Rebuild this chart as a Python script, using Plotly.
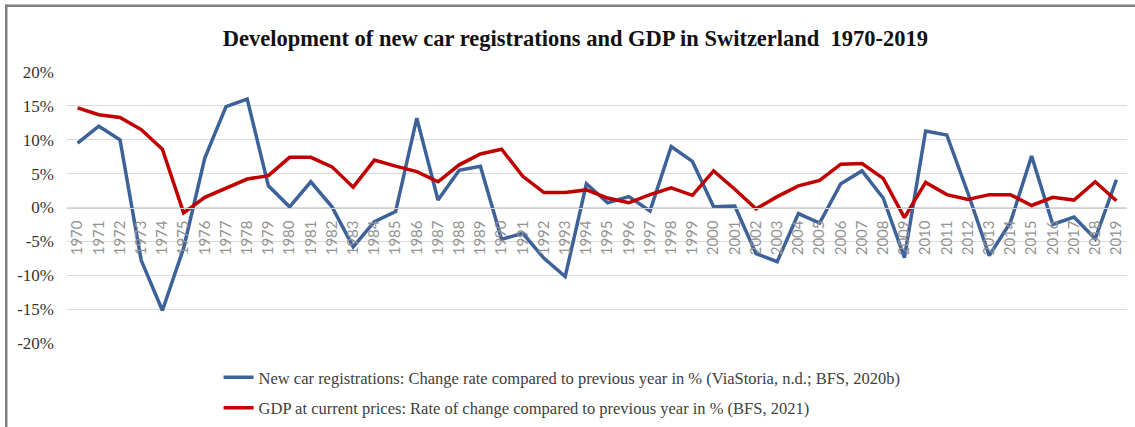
import plotly.graph_objects as go

# Years shown on the category axis
years = [str(y) for y in range(1970, 2020)]

# New car registrations: change rate vs previous year (%)
car_registrations = [
    9.5, 12.0, 10.0, -7.8, -15.2, -6.0, 7.3, 14.9, 16.0, 3.2,
    0.1, 3.8, 0.1, -5.8, -2.1, -0.6, 13.2, 1.1, 5.5, 6.1,
    -4.7, -3.8, -7.5, -10.2, 3.5, 0.7, 1.6, -0.5, 9.0, 6.8,
    0.1, 0.2, -6.8, -8.0, -0.9, -2.3, 3.5, 5.4, 1.4, -7.4,
    11.3, 10.7, 2.1, -7.1, -2.2, 7.6, -2.5, -1.4, -4.6, 4.1,
]

# GDP at current prices: rate of change vs previous year (%)
gdp_change = [
    14.7, 13.7, 13.3, 11.5, 8.6, -0.8, 1.5, 2.8, 4.2, 4.7,
    7.4, 7.4, 6.0, 3.0, 7.0, 6.1, 5.3, 3.8, 6.3, 7.9,
    8.6, 4.6, 2.2, 2.2, 2.6, 1.4, 0.7, 1.9, 2.9, 1.8,
    5.4, 2.7, -0.2, 1.6, 3.2, 4.0, 6.4, 6.5, 4.3, -1.5,
    3.7, 1.9, 1.2, 1.9, 1.9, 0.3, 1.5, 1.1, 3.8, 1.0,
]

y_ticks = [-20, -15, -10, -5, 0, 5, 10, 15, 20]
y_tick_labels = [f"{v}%" for v in y_ticks]

SERIF = "Liberation Serif, Times New Roman, serif"
W, H = 1135, 427
ML, MR, MT, MB = 67, 8, 72, 84
PW, PH = W - ML - MR, H - MT - MB

fig = go.Figure()
fig.add_trace(go.Scatter(
    x=years, y=car_registrations, mode="lines",
    name="New car registrations: Change rate compared to previous year in % (ViaStoria, n.d.; BFS, 2020b)",
    line=dict(color="#3d6199", width=3.5),
    legendgroup="a",
))
fig.add_trace(go.Scatter(
    x=years, y=gdp_change, mode="lines",
    name="GDP at current prices: Rate of change compared to previous year in % (BFS, 2021)",
    line=dict(color="#c00000", width=3.5),
    legendgroup="b",
))

fig.update_layout(
    width=W, height=H,
    margin=dict(l=ML, r=MR, t=MT, b=MB, autoexpand=False),
    paper_bgcolor="white", plot_bgcolor="white",
    title=dict(
        text="<b>Development of new car registrations and GDP in Switzerland  1970-2019</b>",
        x=0.507, xanchor="center", y=0.91, yanchor="middle",
        font=dict(family=SERIF, size=22.5, color="#111111"),
    ),
    showlegend=True,
    legend=dict(
        orientation="v", x=0.143, xanchor="left", y=-0.063, yanchor="top",
        font=dict(family=SERIF, size=16.5, color="#404040"),
        tracegroupgap=6, itemwidth=30, bgcolor="rgba(0,0,0,0)",
    ),
    xaxis=dict(
        type="category", range=[-0.5, len(years) - 0.5],
        anchor="free", position=0.5,
        showgrid=False, showline=True, linecolor="#d0d0d0", linewidth=1,
        ticks="", tickangle=-90, ticklabelstandoff=6,
        tickfont=dict(family="Lato, Liberation Sans, sans-serif", size=15, color="#939393"),
    ),
    yaxis=dict(
        range=[-20, 20], tickvals=y_ticks, ticktext=y_tick_labels,
        showgrid=True, gridcolor="#d9d9d9", gridwidth=1, zeroline=False,
        ticks="", ticklabelstandoff=12,
        tickfont=dict(family=SERIF, size=17, color="#333333"),
    ),
)

# Frame bars along the top and left of the figure, placed in pixel terms
def px_x(p):
    return (p - ML) / PW


def px_y(p):
    return (H - MB - p) / PH


FRAME = "#808080"
# top edge in three pieces: left margin, plot width, right margin
for xa, xb in [(5, ML), (ML, W - MR), (W - MR, W)]:
    fig.add_shape(type="rect", xref="paper", yref="paper", layer="above",
                  x0=px_x(xa), x1=px_x(xb), y0=px_y(7), y1=px_y(4.5),
                  fillcolor=FRAME, line=dict(width=0))
# left edge
fig.add_shape(type="rect", xref="paper", yref="paper", layer="above",
              x0=px_x(5), x1=px_x(7.5), y0=px_y(H), y1=px_y(4.5),
              fillcolor=FRAME, line=dict(width=0))

fig.write_html("out.html", config={"displayModeBar": False})
